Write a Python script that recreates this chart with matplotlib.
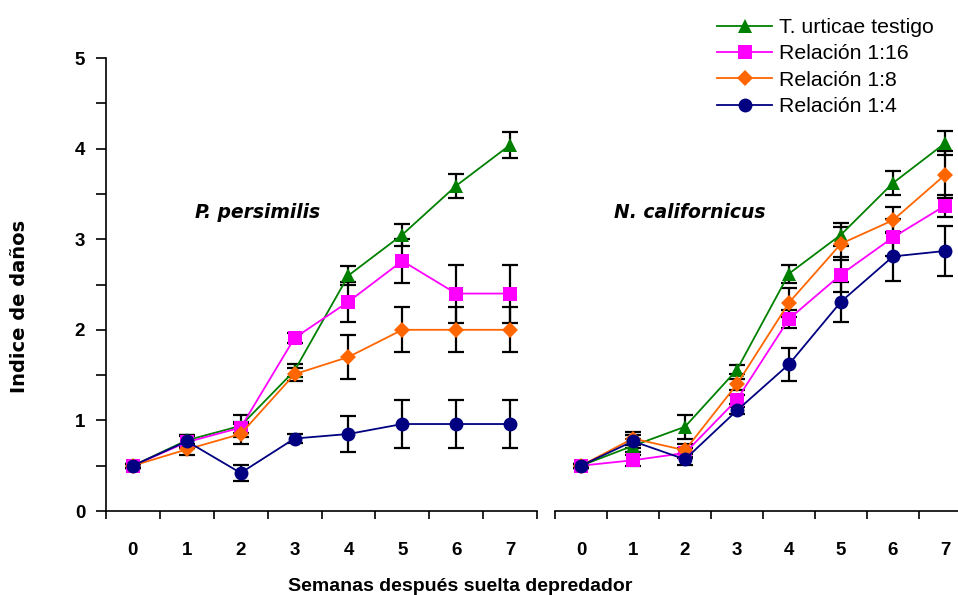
import matplotlib
matplotlib.use("Agg")
import matplotlib.pyplot as plt
from matplotlib.lines import Line2D
from matplotlib.ticker import MultipleLocator, FixedLocator

plt.rcParams['font.family'] = ['Liberation Sans', 'DejaVu Sans']

# Weeks after predator release
weeks = [0, 1, 2, 3, 4, 5, 6, 7]
week_labels = ['0', '1', '2', '3', '4', '5', '6', '7']

series_names = ['T. urticae testigo', 'Relación 1:16', 'Relación 1:8', 'Relación 1:4']
series_colors = ['#008000', '#FF00FF', '#FF6600', '#000080']
series_markers = ['^', 's', 'D', 'o']
marker_sizes = [10.5, 9.5, 8.5, 10]

# Damage index, P. persimilis
pp_testigo = [0.50, 0.78, 0.94, 1.55, 2.60, 3.05, 3.59, 4.04]
pp_testigo_err = [0.02, 0.06, 0.12, 0.07, 0.10, 0.12, 0.13, 0.14]
pp_r16 = [0.50, 0.76, 0.92, 1.91, 2.31, 2.76, 2.40, 2.40]
pp_r16_err = [0.02, 0.07, 0.06, 0.06, 0.22, 0.24, 0.32, 0.32]
pp_r8 = [0.50, 0.68, 0.85, 1.51, 1.70, 2.00, 2.00, 2.00]
pp_r8_err = [0.02, 0.06, 0.11, 0.07, 0.24, 0.25, 0.25, 0.25]
pp_r4 = [0.50, 0.77, 0.42, 0.80, 0.85, 0.96, 0.96, 0.96]
pp_r4_err = [0.02, 0.07, 0.09, 0.05, 0.20, 0.26, 0.26, 0.26]

# Damage index, N. californicus
nc_testigo = [0.50, 0.72, 0.93, 1.56, 2.62, 3.05, 3.62, 4.06]
nc_testigo_err = [0.02, 0.07, 0.13, 0.05, 0.10, 0.13, 0.13, 0.13]
nc_r16 = [0.50, 0.56, 0.64, 1.23, 2.12, 2.61, 3.02, 3.37]
nc_r16_err = [0.02, 0.06, 0.06, 0.05, 0.10, 0.19, 0.20, 0.12]
nc_r8 = [0.50, 0.80, 0.67, 1.40, 2.30, 2.95, 3.21, 3.71]
nc_r8_err = [0.02, 0.07, 0.07, 0.06, 0.16, 0.18, 0.14, 0.26]
nc_r4 = [0.50, 0.77, 0.57, 1.11, 1.62, 2.31, 2.81, 2.87]
nc_r4_err = [0.02, 0.07, 0.06, 0.04, 0.18, 0.22, 0.27, 0.28]

panels = [
    ("P. persimilis", [pp_testigo, pp_r16, pp_r8, pp_r4],
     [pp_testigo_err, pp_r16_err, pp_r8_err, pp_r4_err]),
    ("N. californicus", [nc_testigo, nc_r16, nc_r8, nc_r4],
     [nc_testigo_err, nc_r16_err, nc_r8_err, nc_r4_err]),
]

W, H = 958, 595
fig = plt.figure(figsize=(W / 100, H / 100), dpi=100)
ax1 = fig.add_axes([106 / W, 84 / H, 431 / W, 453 / H])
ax2 = fig.add_axes([555 / W, 84 / H, 416 / W, 453 / H])
title_pos = [(2.32, 3.30), (2.1, 3.30)]

tick_font = dict(family='Liberation Sans', weight='bold', size=13.5)

for i, (ax, (title, vals, errs)) in enumerate(zip([ax1, ax2], panels)):
    for v, e in zip(vals, errs):
        ax.errorbar(weeks, v, yerr=e, fmt='none', ecolor='black',
                    elinewidth=1.6, capsize=5.5, capthick=1.6, zorder=2)
    for v, c, m, ms in zip(vals, series_colors, series_markers, marker_sizes):
        ax.plot(weeks, v, color=c, marker=m, markersize=ms, lw=1.3,
                markeredgewidth=0, zorder=3, clip_on=False)

    ax.set_xlim(-0.5, 7.5)
    ax.set_ylim(0, 5)
    for s in ['top', 'right']:
        ax.spines[s].set_visible(False)
    ax.spines['bottom'].set_linewidth(1.2)
    ax.spines['left'].set_linewidth(1.2)

    ax.xaxis.set_major_locator(FixedLocator(weeks))
    ax.xaxis.set_minor_locator(FixedLocator([w - 0.5 for w in weeks] + [7.5]))
    ax.set_xticklabels(week_labels, fontdict=tick_font)
    ax.tick_params(axis='x', which='major', length=0, pad=22)
    ax.tick_params(axis='x', which='minor', length=6, width=1.2, direction='out')

    ax.text(title_pos[i][0], title_pos[i][1], title, ha='center', va='center',
            family='DejaVu Sans', weight='bold', style='italic', fontsize=13.5)

ax1.yaxis.set_minor_locator(MultipleLocator(0.5))
ax1.set_yticks(range(0, 6))
ax1.set_yticklabels([str(t) for t in range(0, 6)], fontdict=tick_font)
ax1.tick_params(axis='y', which='both', length=7, width=1.2, direction='out', pad=8)

ax2.spines['left'].set_visible(False)
ax2.set_yticks([])
ax2.yaxis.set_minor_locator(FixedLocator([]))

fig.text(20 / W, 1 - 306 / H, 'Indice de daños', rotation=90, ha='center',
         va='center', family='DejaVu Sans', weight='bold', fontsize=14)
fig.text(460 / W, 4 / H, 'Semanas después suelta depredador', ha='center',
         va='baseline', family='Liberation Sans', weight='bold', fontsize=14)

handles = [Line2D([], [], color=c, marker=m, markersize=ms, lw=1.3, markeredgewidth=0)
           for c, m, ms in zip(series_colors, series_markers, marker_sizes)]
fig.legend(handles, series_names, loc='upper left',
           bbox_to_anchor=(717 / W, 1 - 18 / H), frameon=False,
           prop=dict(family='Liberation Sans', size=15.3), borderpad=0,
           borderaxespad=0, handlelength=2.6, handletextpad=0.3,
           labelspacing=0.35, numpoints=1)

fig.savefig('out.png', dpi=100)
